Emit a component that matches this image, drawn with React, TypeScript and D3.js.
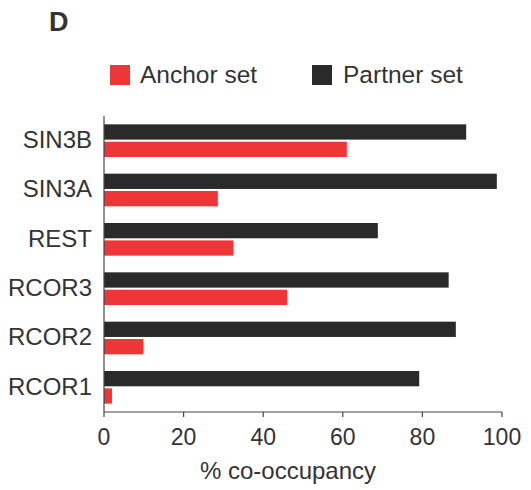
import React from "react";
import * as d3 from "d3";

const categories = ["SIN3B", "SIN3A", "REST", "RCOR3", "RCOR2", "RCOR1"];
const partnerValues = [91, 98.7, 68.8, 86.6, 88.4, 79.2];
const anchorValues = [61, 28.6, 32.5, 46, 9.9, 2];
const xTicks = [0, 20, 40, 60, 80, 100];
const seriesNames = ["Partner set", "Anchor set"];

const RED = "#ee3537";
const DARK = "#2a2a2a";
const TEXT = "#333333";
const FONT = "Arial, 'Liberation Sans', Helvetica, sans-serif";

export default function App() {
  const width = 531;
  const height = 490;
  const x = d3.scaleLinear().domain([0, 100]).range([104, 502]);
  const y = d3
    .scaleBand<string>()
    .domain(categories)
    .range([116, 412])
    .paddingInner(0.338)
    .paddingOuter(0.169);
  const sub = d3
    .scaleBand<string>()
    .domain(seriesNames)
    .range([0, y.bandwidth()])
    .paddingInner(0.12);

  const rows = categories.map((c, i) => ({
    c,
    partner: partnerValues[i],
    anchor: anchorValues[i],
  }));

  return (
    <svg
      width={width}
      height={height}
      style={{ position: "absolute", left: 0, top: 0, fontFamily: FONT }}
    >
      <rect width={width} height={height} fill="#fff" />
      <text x={49} y={31} fontSize={27} fontWeight="bold" fill={TEXT}>
        D
      </text>

      {/* legend */}
      <rect x={110} y={65} width={20} height={20} fill={RED} />
      <text x={140} y={82.5} fontSize={24.5} fill={TEXT}>
        Anchor set
      </text>
      <rect x={312} y={65} width={20} height={20} fill={DARK} />
      <text x={343} y={82.5} fontSize={24.5} fill={TEXT}>
        Partner set
      </text>

      {/* bars */}
      {rows.map((r) => {
        const y0 = y(r.c) as number;
        return (
          <g key={r.c}>
            <rect
              x={x(0)}
              y={y0 + (sub("Partner set") as number)}
              width={x(r.partner) - x(0)}
              height={sub.bandwidth()}
              fill={DARK}
            />
            <rect
              x={x(0)}
              y={y0 + (sub("Anchor set") as number)}
              width={x(r.anchor) - x(0)}
              height={sub.bandwidth()}
              fill={RED}
            />
            <text
              x={92}
              y={y0 + y.bandwidth() / 2 + 7.4}
              textAnchor="end"
              fontSize={24}
              fill={TEXT}
            >
              {r.c}
            </text>
          </g>
        );
      })}

      {/* y axis line */}
      <line x1={104} x2={104} y1={116} y2={412} stroke="#444" strokeWidth={1.2} />

      {/* x axis */}
      <line x1={x(0)} x2={x(100)} y1={412} y2={412} stroke="#444" strokeWidth={1.2} />
      {xTicks.map((t) => (
        <g key={t}>
          <line x1={x(t)} x2={x(t)} y1={412} y2={417} stroke="#444" strokeWidth={1.2} />
          <text x={x(t)} y={445} textAnchor="middle" fontSize={23} fill={TEXT}>
            {t}
          </text>
        </g>
      ))}
      <text x={288} y={479} textAnchor="middle" fontSize={24} fill={TEXT}>
        % co-occupancy
      </text>
    </svg>
  );
}
